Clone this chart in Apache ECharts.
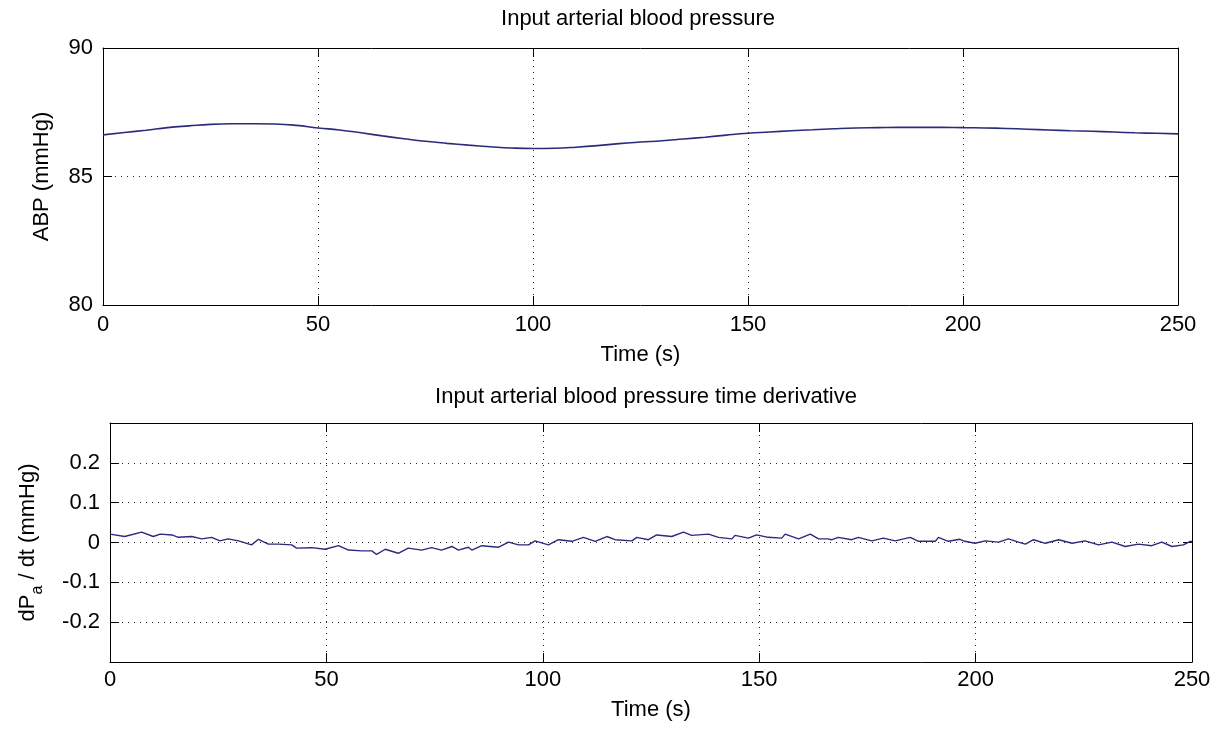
<!DOCTYPE html>
<html>
<head>
<meta charset="utf-8">
<script src="https://cdn.jsdelivr.net/npm/echarts@6/dist/echarts.min.js"></script>
<style>
  html, body { margin: 0; padding: 0; background: #fff; }
  #chart { width: 1217px; height: 730px; }
</style>
</head>
<body>
<div id="chart"></div>
<script>
// upper panel: input ABP, every 5 s (mmHg)
const abpTime = [0, 5, 10, 15, 20, 25, 30, 35, 40, 45, 50, 55, 60, 65, 70, 75, 80, 85, 90, 95,
  100, 105, 110, 115, 120, 125, 130, 135, 140, 145, 150, 155, 160, 165, 170, 175, 180, 185, 190, 195,
  200, 205, 210, 215, 220, 225, 230, 235, 240, 245, 250];
const abpValue = [86.62, 86.71, 86.80, 86.90, 86.97, 87.03, 87.05, 87.05, 87.04, 86.99,
  86.89, 86.81, 86.70, 86.58, 86.47, 86.37, 86.29, 86.22, 86.16, 86.11,
  86.09, 86.10, 86.14, 86.20, 86.28, 86.34, 86.39, 86.46, 86.53, 86.61,
  86.68, 86.73, 86.78, 86.82, 86.86, 86.89, 86.90, 86.91, 86.91, 86.91,
  86.90, 86.89, 86.87, 86.84, 86.81, 86.78, 86.76, 86.73, 86.70, 86.68, 86.66];

// lower panel: dPa/dt, corners of the jagged trace (s, mmHg)
const dTime = [0, 3.4, 7.3, 10, 11.6, 14.3, 15.8, 18.9, 21.2, 23.5, 25.4, 27.3, 29.7, 32.7, 34.3,
  36.6, 38.9, 42, 43.1, 46.6, 49.7, 52.8, 55.1, 58.2, 60.5, 61.6, 63.6, 66.6, 68.9, 72, 74.3,
  76.6, 79, 80.5, 82.8, 83.6, 85.9, 89.7, 92.1, 94.4, 96.7, 98.2, 101.3, 103.6, 106.7, 109.4,
  112.1, 114.8, 116.7, 120.6, 121.7, 124.4, 126.3, 129.8, 132.5, 134.4, 138.3, 140.6, 143.7,
  144.4, 147.5, 149.4, 152.1, 155.2, 156, 159.1, 161.8, 163.7, 165.8, 166.8, 168.3, 171.4,
  172.9, 176, 178.7, 181.4, 184.9, 186.8, 190.7, 191.4, 193.7, 196.4, 197.5, 199.9, 202.2,
  205.3, 207.6, 209.9, 211.5, 213.4, 216.1, 219.2, 222.3, 225.3, 228.4, 231.5, 234.6, 237.6,
  240.7, 243, 245.4, 248, 249.6, 250];
const dValue = [0.021, 0.015, 0.026, 0.015, 0.021, 0.019, 0.013, 0.015, 0.009, 0.013, 0.004, 0.009,
  0.004, -0.006, 0.008, -0.004, -0.004, -0.006, -0.014, -0.013, -0.017, -0.008, -0.019, -0.021,
  -0.021, -0.030, -0.017, -0.027, -0.014, -0.019, -0.013, -0.019, -0.010, -0.019, -0.012, -0.019,
  -0.008, -0.012, 0.001, -0.006, -0.006, 0.004, -0.006, 0.007, 0.003, 0.013, 0.003, 0.015, 0.007,
  0.004, 0.013, 0.007, 0.019, 0.015, 0.026, 0.018, 0.021, 0.013, 0.009, 0.018, 0.011, 0.019,
  0.013, 0.011, 0.021, 0.009, 0.021, 0.009, 0.009, 0.007, 0.013, 0.007, 0.013, 0.004, 0.011,
  0.004, 0.013, 0.003, 0.003, 0.013, 0.003, 0.008, 0.003, -0.002, 0.004, 0.001, 0.009, 0.001,
  -0.004, 0.007, -0.002, 0.007, -0.002, 0.004, -0.006, 0.001, -0.010, -0.004, -0.008, 0.001,
  -0.010, -0.006, 0.003, 0.002];

const font = '"Liberation Sans", Arial, sans-serif';
const ink = '#000';
const traceColor = '#2b2b7c';
const dots = { color: '#222', width: 1, type: [1, 5] };

function pairs(xs, ys) {
  return xs.map((x, i) => [x, ys[i]]);
}

// MATLAB-style box: labelled axis + bare mirror axis, ticks pointing in
function xAxes(grid, labelMargin, nameGap) {
  const common = {
    type: 'value', gridIndex: grid, min: 0, max: 250, interval: 50,
    axisLine: { show: true, onZero: false, lineStyle: { color: ink, width: 1 } },
    axisTick: { show: true, inside: true, length: 9, lineStyle: { color: ink } }
  };
  return [
    Object.assign({}, common, {
      position: 'bottom',
      name: 'Time (s)', nameLocation: 'middle', nameGap: nameGap, nameMoveOverlap: false,
      nameTextStyle: { fontSize: 22, fontFamily: font, color: ink },
      axisLabel: { margin: labelMargin, fontSize: 22, fontFamily: font, color: ink },
      splitLine: { show: true, lineStyle: dots }
    }),
    Object.assign({}, common, {
      position: 'top',
      axisLabel: { show: false },
      splitLine: { show: false }
    })
  ];
}

function yAxes(grid, min, max, interval, extra) {
  const common = {
    type: 'value', gridIndex: grid, min: min, max: max, interval: interval,
    axisLine: { show: true, onZero: false, lineStyle: { color: ink, width: 1 } },
    axisTick: { show: true, inside: true, length: 9, lineStyle: { color: ink } }
  };
  return [
    Object.assign({}, common, {
      position: 'left',
      nameLocation: 'middle', nameMoveOverlap: false,
      axisLabel: { margin: 10, fontSize: 22, fontFamily: font, color: ink },
      splitLine: { show: true, lineStyle: dots }
    }, extra),
    Object.assign({}, common, {
      position: 'right',
      axisLabel: { show: false },
      splitLine: { show: false }
    })
  ];
}

const chart = echarts.init(document.getElementById('chart'));
chart.setOption({
  animation: false,
  backgroundColor: '#fff',
  title: [
    { text: 'Input arterial blood pressure', left: 638, top: 8, textAlign: 'center', padding: 0,
      textStyle: { fontSize: 22, fontWeight: 'normal', fontFamily: font, color: ink } },
    { text: 'Input arterial blood pressure time derivative', left: 646, top: 386, textAlign: 'center', padding: 0,
      textStyle: { fontSize: 22, fontWeight: 'normal', fontFamily: font, color: ink } }
  ],
  grid: [
    { left: 103, top: 48, width: 1075, height: 257, outerBoundsMode: 'none' },
    { left: 110, top: 423, width: 1082, height: 239, outerBoundsMode: 'none' }
  ],
  xAxis: xAxes(0, 9, 39).concat(xAxes(1, 7, 37)),
  yAxis: yAxes(0, 80, 90, 5, {
    name: 'ABP (mmHg)', nameGap: 50,
    nameTextStyle: { fontSize: 22, fontFamily: font, color: ink }
  }).concat(yAxes(1, -0.3, 0.3, 0.1, {
    name: '{m|dP}{s|a}{m| / dt (mmHg)}', nameGap: 64,
    nameTextStyle: {
      rich: {
        m: { fontSize: 22, fontFamily: font, color: ink, lineHeight: 36 },
        s: { fontSize: 16, fontFamily: font, color: ink, lineHeight: 18, verticalAlign: 'bottom' }
      }
    },
    axisLabel: {
      margin: 10, fontSize: 22, fontFamily: font, color: ink,
      formatter: v => (Math.abs(v) > 0.25 ? '' : String(Math.round(v * 10) / 10))
    }
  })),
  series: [
    {
      type: 'line', xAxisIndex: 0, yAxisIndex: 0,
      data: pairs(abpTime, abpValue),
      showSymbol: false, smooth: true,
      lineStyle: { color: traceColor, width: 1.6 }
    },
    {
      type: 'line', xAxisIndex: 2, yAxisIndex: 2,
      data: pairs(dTime, dValue),
      showSymbol: false,
      lineStyle: { color: traceColor, width: 1.4 }
    }
  ]
});
</script>
</body>
</html>
